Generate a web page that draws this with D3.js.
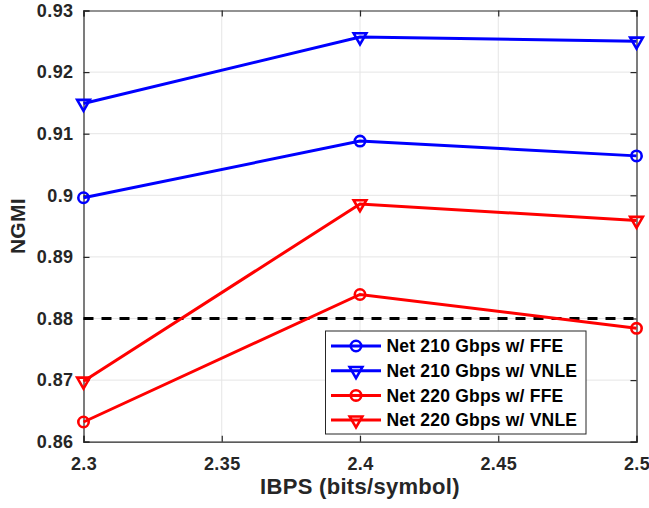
<!DOCTYPE html>
<html>
<head>
<meta charset="utf-8">
<script src="https://cdn.jsdelivr.net/npm/d3@7"></script>
<style>
  body { margin: 0; background: #fff; }
  svg { font-family: "Liberation Sans", Arial, sans-serif; font-weight: bold; }
</style>
</head>
<body>
<svg id="chart"></svg>
<script>
const width = 649;
const height = 508;
const margin = {left: 83.5, right: 12.5, top: 10.5, bottom: 66.3};

const ibps = [2.3, 2.4, 2.5];
const xTicks = [2.3, 2.35, 2.4, 2.45, 2.5];
const yTicks = [0.86, 0.87, 0.88, 0.89, 0.9, 0.91, 0.92, 0.93];
const threshold = 0.88;

const ffe210 = [0.8996, 0.9088, 0.9064];
const vnle210 = [0.9149, 0.9257, 0.9250];
const ffe220 = [0.8632, 0.8839, 0.8784];
const vnle220 = [0.8698, 0.8986, 0.8959];

const seriesNames = ['Net 210 Gbps w/ FFE', 'Net 210 Gbps w/ VNLE', 'Net 220 Gbps w/ FFE', 'Net 220 Gbps w/ VNLE'];
const seriesValues = [ffe210, vnle210, ffe220, vnle220];
const seriesColors = ['#0000ff', '#0000ff', '#ff0000', '#ff0000'];
const seriesMarkers = ['circle', 'triangle', 'circle', 'triangle'];

const svg = d3.select('#chart').attr('width', width).attr('height', height);

const x = d3.scaleLinear().domain([2.3, 2.5]).range([margin.left, width - margin.right]);
const y = d3.scaleLinear().domain([0.86, 0.93]).range([height - margin.bottom, margin.top]);

const axisColor = '#262626';

// grid
svg.append('g').selectAll('line.gx')
  .data(xTicks.slice(1, -1)).enter().append('line')
  .attr('x1', d => x(d)).attr('x2', d => x(d))
  .attr('y1', y(0.86)).attr('y2', y(0.93))
  .attr('stroke', '#e5e5e5').attr('stroke-width', 1);
svg.append('g').selectAll('line.gy')
  .data(yTicks.slice(1, -1)).enter().append('line')
  .attr('y1', d => y(d)).attr('y2', d => y(d))
  .attr('x1', x(2.3)).attr('x2', x(2.5))
  .attr('stroke', '#e5e5e5').attr('stroke-width', 1);

// axes
const xAxis = svg.append('g').attr('transform', `translate(0, ${y(0.86)})`)
  .call(d3.axisBottom(x).tickValues(xTicks).tickSize(-6).tickPadding(16).tickFormat(d3.format('')));
const yAxis = svg.append('g').attr('transform', `translate(${x(2.3)}, 0)`)
  .call(d3.axisLeft(y).tickValues(yTicks).tickSize(-6).tickPadding(10).tickFormat(d => String(+d.toFixed(2))));
const xTop = svg.append('g').attr('transform', `translate(0, ${y(0.93)})`)
  .call(d3.axisTop(x).tickValues(xTicks).tickSize(-6).tickFormat(''));
const yRight = svg.append('g').attr('transform', `translate(${x(2.5)}, 0)`)
  .call(d3.axisRight(y).tickValues(yTicks).tickSize(-6).tickFormat(''));

[xAxis, yAxis, xTop, yRight].forEach(a => {
  a.select('.domain').attr('stroke', axisColor).attr('stroke-width', 1.2);
  a.selectAll('.tick line').attr('stroke', axisColor).attr('stroke-width', 1.2);
  a.selectAll('.tick text').attr('fill', axisColor)
    .style('font-size', '18px').style('font-weight', 'bold').style('letter-spacing', '0.4px')
    .style('font-family', '"Liberation Sans", Arial, sans-serif');
});

// threshold
svg.append('line')
  .attr('x1', x(2.3)).attr('x2', x(2.5))
  .attr('y1', y(threshold)).attr('y2', y(threshold))
  .attr('stroke', '#000').attr('stroke-width', 3)
  .attr('stroke-dasharray', '10,8');

const line = d3.line().x((d, i) => x(ibps[i])).y(d => y(d));
const tri = d3.symbol().type(d3.symbolTriangle).size(70);

function drawMarker(g, type, cx, cy, color) {
  if (type === 'circle') {
    g.append('circle').attr('cx', cx).attr('cy', cy).attr('r', 5.2)
      .attr('fill', 'none').attr('stroke', color).attr('stroke-width', 2.6);
  } else {
    g.append('path').attr('d', tri())
      .attr('transform', `translate(${cx}, ${cy}) rotate(180)`)
      .attr('fill', 'none').attr('stroke', color).attr('stroke-width', 2.6)
      .attr('stroke-linejoin', 'miter');
  }
}

seriesValues.forEach((vals, s) => {
  const g = svg.append('g');
  g.append('path').datum(vals).attr('d', line)
    .attr('fill', 'none').attr('stroke', seriesColors[s]).attr('stroke-width', 3);
  vals.forEach((v, i) => drawMarker(g, seriesMarkers[s], x(ibps[i]), y(v), seriesColors[s]));
});

// axis labels
svg.append('text')
  .attr('x', (x(2.3) + x(2.5)) / 2).attr('y', 494)
  .attr('text-anchor', 'middle').attr('fill', axisColor)
  .style('font-size', '22px').style('letter-spacing', '0.3px').text('IBPS (bits/symbol)');
svg.append('text')
  .attr('transform', `translate(25, ${(y(0.86) + y(0.93)) / 2}) rotate(-90)`)
  .attr('text-anchor', 'middle').attr('fill', axisColor)
  .style('font-size', '21px').style('letter-spacing', '0.3px').text('NGMI');

// legend
const legend = svg.append('g');
legend.append('rect')
  .attr('x', 325.5).attr('y', 331).attr('width', 260.5).attr('height', 103)
  .attr('fill', '#fff').attr('stroke', axisColor).attr('stroke-width', 1);
seriesNames.forEach((name, s) => {
  const ly = 346 + s * 24.7;
  legend.append('line').attr('x1', 331).attr('x2', 381).attr('y1', ly).attr('y2', ly)
    .attr('stroke', seriesColors[s]).attr('stroke-width', 3);
  drawMarker(legend, seriesMarkers[s], 356, ly, seriesColors[s]);
  legend.append('text').attr('x', 386.5).attr('y', ly).attr('dy', '0.36em')
    .attr('fill', '#000').style('font-size', '17.5px').style('letter-spacing', '0.2px').text(name);
});
</script>
</body>
</html>
